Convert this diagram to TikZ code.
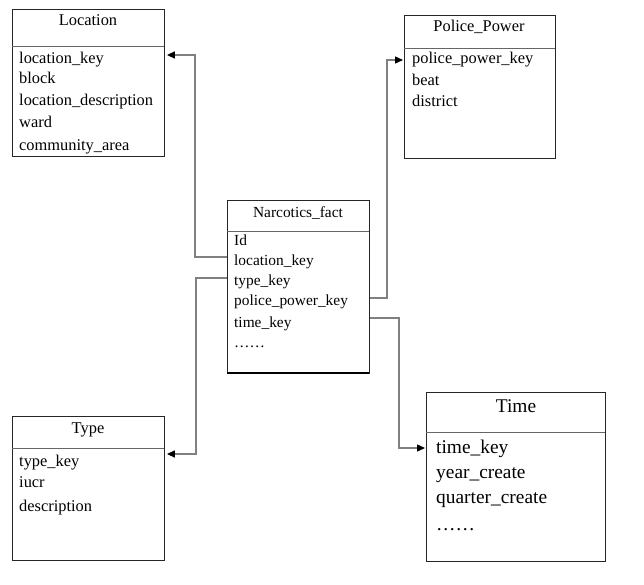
\documentclass[tikz,border=0pt]{standalone}
\usepackage{fontspec}
\setmainfont{Liberation Serif}
\usetikzlibrary{arrows.meta,calc}
\begin{document}
\begin{tikzpicture}[x=1pt,y=-1pt,
  tbl/.style={draw=black!85,line width=0.9pt,anchor=north west,inner sep=0pt},
  divider/.style={draw=black!60,line width=0.8pt},
  fld/.style={anchor=base west,inner sep=0pt,font=\fontsize{16.4}{18}\selectfont},
  fldsm/.style={anchor=base west,inner sep=0pt,font=\fontsize{15.4}{18}\selectfont},
  fldbig/.style={anchor=base west,inner sep=0pt,font=\fontsize{19.4}{22}\selectfont},
  ttl/.style={anchor=base,inner sep=0pt,font=\fontsize{16.4}{18}\selectfont},
  ttlbig/.style={anchor=base,inner sep=0pt,font=\fontsize{19.4}{22}\selectfont},
  conn/.style={draw=black!50,line width=1.3pt,-{Triangle[length=8pt,width=7pt,color=black]}}]
\useasboundingbox (0,0) rectangle (644,585);

% Location
\node[tbl,minimum width=152pt,minimum height=147pt] (loc) at (12,9) {};
\draw[divider] (12,46) -- (164,46);
\node[ttl] (locT) at (88,26) {Location};
\node[fld] (l1) at (19,64) {location\_key};
\node[fld] (l2) at (19,84) {block};
\node[fld] (l3) at (19,106) {location\_description};
\node[fld] (l4) at (19,128) {ward};
\node[fld] (l5) at (19,151) {community\_area};

% Police_Power
\node[tbl,minimum width=151pt,minimum height=143pt] (pol) at (404,15) {};
\draw[divider] (404,48) -- (555,48);
\node[ttl] (polT) at (479,32) {Police\_Power};
\node[fld] (p1) at (412,64) {police\_power\_key};
\node[fld] (p2) at (412,86) {beat};
\node[fld] (p3) at (412,107) {district};

% Narcotics_fact
\node[tbl,minimum width=142pt,minimum height=173pt] (fact) at (227,200) {};
\draw[black,line width=1.8pt] (227,373) -- (369,373);
\draw[divider] (227,231) -- (369,231);
\node[ttl,font=\fontsize{15.4}{18}\selectfont] (factT) at (298,217) {Narcotics\_fact};
\node[fldsm] (f1) at (234,245) {Id};
\node[fldsm] (f2) at (234,265) {location\_key};
\node[fldsm] (f3) at (234,285) {type\_key};
\node[fldsm] (f4) at (234,305) {police\_power\_key};
\node[fldsm] (f5) at (234,327) {time\_key};
\node[fldsm] (f6) at (234,347) {\textellipsis\textellipsis};

% Type
\node[tbl,minimum width=152pt,minimum height=144pt] (typ) at (12,416) {};
\draw[divider] (12,448) -- (164,448);
\node[ttl] (typT) at (88,433) {Type};
\node[fld] (t1) at (19,466) {type\_key};
\node[fld] (t2) at (19,487) {iucr};
\node[fld] (t3) at (19,511) {description};

% Time
\node[tbl,minimum width=179pt,minimum height=169pt] (tim) at (426,392) {};
\draw[divider] (426,432) -- (605,432);
\node[ttlbig] (timT) at (516,412) {Time};
\node[fldbig] (m1) at (436,453) {time\_key};
\node[fldbig] (m2) at (436,478) {year\_create};
\node[fldbig] (m3) at (436,503) {quarter\_create};
\node[fldbig] (m4) at (436,530) {\textellipsis\textellipsis};

% connector bends
\coordinate (cl1) at (195,257);
\coordinate (cl2) at (195,55);
\coordinate (ct1) at (196,278);
\coordinate (ct2) at (196,454);
\coordinate (cp1) at (387,298);
\coordinate (cp2) at (387,60);
\coordinate (cm1) at (399,318);
\coordinate (cm2) at (399,448);

\draw[conn,shorten >=2pt] (fact.west |- cl1) -- (cl1) -- (cl2) -- (loc.east |- cl2);
\draw[conn,shorten >=2pt] (fact.west |- ct1) -- (ct1) -- (ct2) -- (typ.east |- ct2);
\draw[conn,shorten >=1pt] (fact.east |- cp1) -- (cp1) -- (cp2) -- (pol.west |- cp2);
\draw[conn,shorten >=1pt] (fact.east |- cm1) -- (cm1) -- (cm2) -- (tim.west |- cm2);
\end{tikzpicture}
\end{document}
